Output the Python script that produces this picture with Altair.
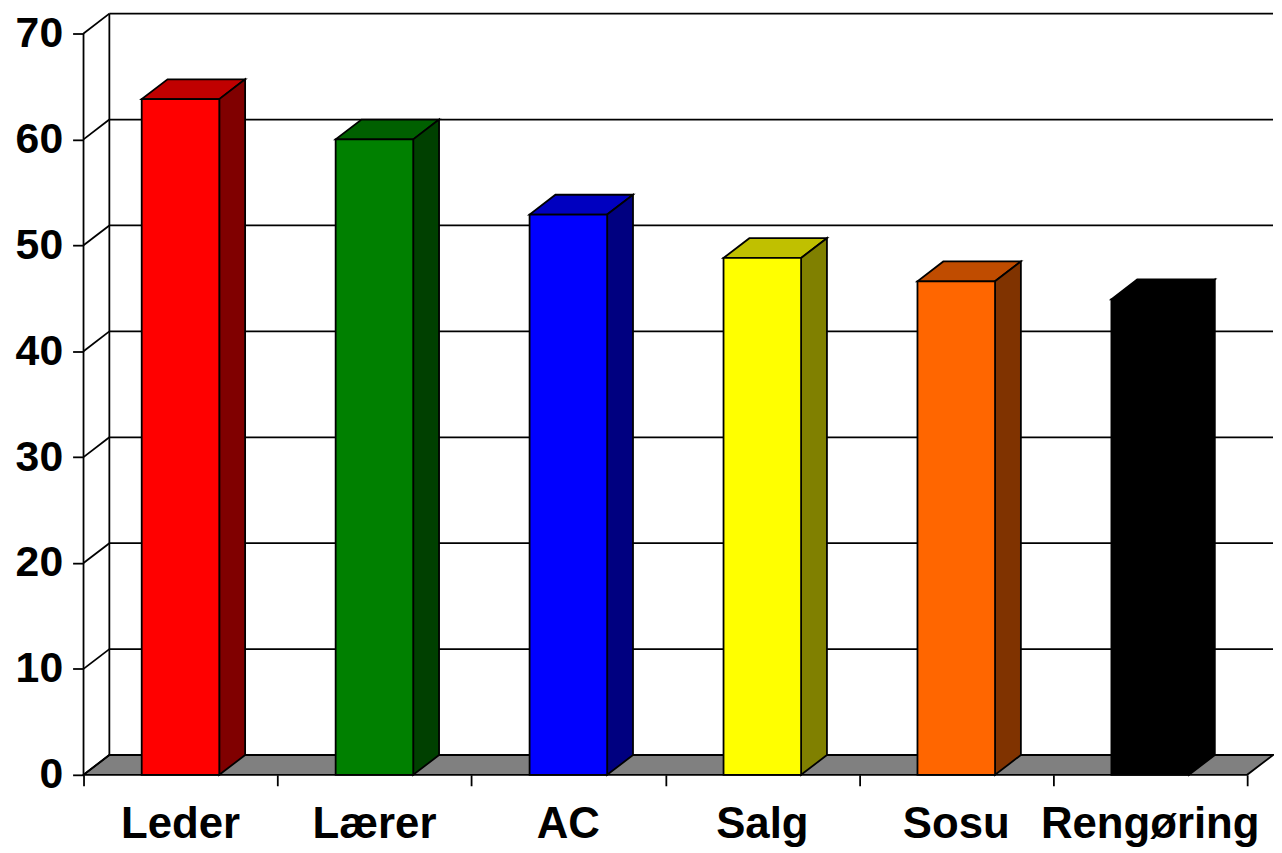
import altair as alt
import pandas as pd

# ---------------- data ----------------
categories = ["Leder", "Lærer", "AC", "Salg", "Sosu", "Rengøring"]
values = [63.8, 60.0, 52.9, 48.8, 46.6, 44.9]
front_colors = ["#FF0000", "#008000", "#0000FF", "#FFFF00", "#FF6600", "#000000"]
top_colors = ["#C00000", "#006000", "#0000C0", "#C0C000", "#C04C00", "#000000"]
side_colors = ["#800000", "#004000", "#000080", "#808000", "#803300", "#000000"]
y_ticks = [0, 10, 20, 30, 40, 50, 60, 70]

# ---------------- 3-D geometry (style constants) ----------------
DX = 0.1332   # depth, in category units
DY = 1.87     # depth, in value units
BAR_L, BAR_R = 0.3, 0.7
N = len(categories)
Y_TOP = max(y_ticks)
X_MAX = N + DX
Y_MAX = Y_TOP + DY
FONT = "Liberation Sans"
LW = 1.8

xs = alt.Scale(domain=[0, X_MAX], nice=False, zero=False)
ys = alt.Scale(domain=[0, Y_MAX], nice=False, zero=False)
x_axis = alt.Axis(values=list(range(N + 1)), labels=False, tickSize=11,
                  domain=False, grid=False, title=None)
y_axis = alt.Axis(values=y_ticks, tickSize=11, labelPadding=10,
                  domain=False, grid=False, title=None)


def X(field):
    return alt.X(field, type="quantitative", scale=xs, axis=x_axis)


def Y(field):
    return alt.Y(field, type="quantitative", scale=ys, axis=y_axis)


# floor
floor_df = pd.DataFrame({
    "x": [0, DX, N, N + DX],
    "y": [0, 0, 0, DY],
    "y2": [0, DY, DY, DY],
})
floor = alt.Chart(floor_df).mark_area(
    fill="#808080", stroke="black", strokeWidth=LW
).encode(x=X("x"), y=Y("y"), y2="y2")

# wall lines: back gridlines, back-left edge, side diagonals, front axis
rows = []
for t in y_ticks[1:]:
    rows.append({"x": DX, "x2": N + DX, "y": t + DY, "y2": t + DY})
rows.append({"x": DX, "x2": DX, "y": DY, "y2": Y_TOP + DY})
for t in y_ticks:
    rows.append({"x": 0, "x2": DX, "y": t, "y2": t + DY})
rows.append({"x": 0, "x2": 0, "y": 0, "y2": Y_TOP})
rules = alt.Chart(pd.DataFrame(rows)).mark_rule(
    color="black", strokeWidth=LW
).encode(x=X("x"), x2="x2", y=Y("y"), y2="y2")

# bar faces
top_rows, side_rows, front_rows = [], [], []
for i, (c, v) in enumerate(zip(categories, values)):
    L, R = i + BAR_L, i + BAR_R
    for xx, lo, hi in [(L, v, v), (L + DX, v, v + DY), (R, v, v + DY), (R + DX, v + DY, v + DY)]:
        top_rows.append({"cat": c, "x": xx, "y": lo, "y2": hi, "fill": top_colors[i]})
    for xx, lo, hi in [(R, 0, v), (R + DX, DY, v + DY)]:
        side_rows.append({"cat": c, "x": xx, "y": lo, "y2": hi, "fill": side_colors[i]})
    front_rows.append({"cat": c, "x": L, "x2": R, "y": 0, "y2": v, "fill": front_colors[i]})

tops = alt.Chart(pd.DataFrame(top_rows)).mark_area(
    stroke="black", strokeWidth=LW, strokeJoin="miter"
).encode(x=X("x"), y=Y("y"), y2="y2",
         fill=alt.Fill("fill:N", scale=None), detail="cat:N")

sides = alt.Chart(pd.DataFrame(side_rows)).mark_area(
    stroke="black", strokeWidth=LW, strokeJoin="miter"
).encode(x=X("x"), y=Y("y"), y2="y2",
         fill=alt.Fill("fill:N", scale=None), detail="cat:N")

fronts = alt.Chart(pd.DataFrame(front_rows)).mark_rect(
    stroke="black", strokeWidth=LW
).encode(x=X("x"), x2="x2", y=Y("y"), y2="y2",
         fill=alt.Fill("fill:N", scale=None))

# category labels
lab_df = pd.DataFrame({"cat": categories,
                       "x": [i + 0.5 for i in range(N)],
                       "y": [0] * N})
labels = alt.Chart(lab_df).mark_text(
    font=FONT, fontWeight="bold", fontSize=44, color="black",
    baseline="alphabetic", align="center", dy=64
).encode(x=X("x"), y=Y("y"), text="cat:N")

chart = alt.layer(floor, rules, tops, sides, fronts, labels).properties(
    width=1197, height=766,
    autosize=alt.AutoSizeParams(type="none"),
    padding={"left": 76, "top": 3, "right": 1, "bottom": 76},
).configure_view(strokeWidth=0).configure_axis(
    tickColor="black", tickWidth=LW, labelColor="black",
    labelFont=FONT, labelFontWeight="bold", labelFontSize=43,
)

chart.save("out.html", embed_options={"renderer": "svg", "actions": False})
